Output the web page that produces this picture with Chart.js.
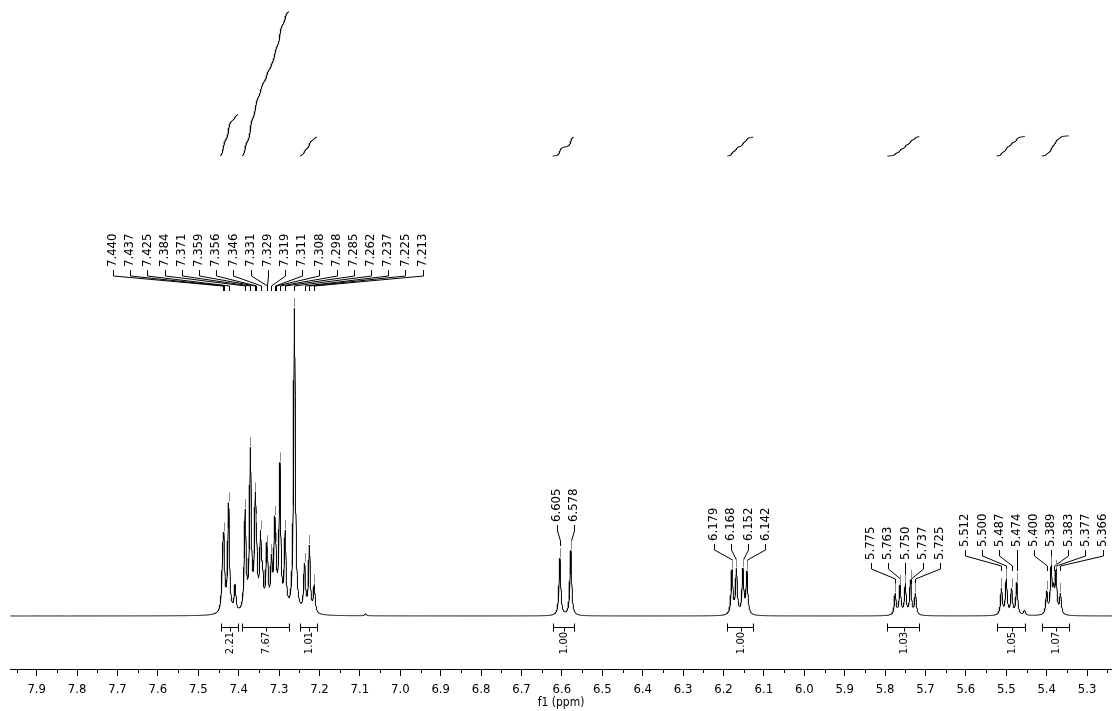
<!DOCTYPE html>
<html>
<head>
<meta charset="utf-8">
<script src="https://cdn.jsdelivr.net/npm/chart.js@4.4.0/dist/chart.umd.min.js"></script>
<style>
  body { margin: 0; background: #fff; }
  #wrap { width: 1112px; height: 711px; }
</style>
</head>
<body>
<div id="wrap"><canvas id="spectrum" width="1112" height="711"></canvas></div>
<script>
// axis ticks (ppm)
const ppmTicks = [7.9, 7.8, 7.7, 7.6, 7.5, 7.4, 7.3, 7.2, 7.1, 7.0, 6.9, 6.8, 6.7, 6.6,
  6.5, 6.4, 6.3, 6.2, 6.1, 6.0, 5.9, 5.8, 5.7, 5.6, 5.5, 5.4, 5.3];

// resonance lines: position (ppm) and height
const linePpm = [7.440, 7.437, 7.425, 7.409, 7.384, 7.371, 7.359, 7.356, 7.346, 7.341,
  7.331, 7.329, 7.319, 7.311, 7.308, 7.298, 7.285, 7.262, 7.237, 7.225, 7.213, 7.086,
  6.605, 6.578,
  6.179, 6.168, 6.152, 6.142,
  5.775, 5.763, 5.750, 5.737, 5.725,
  5.512, 5.500, 5.487, 5.474, 5.455,
  5.400, 5.389, 5.383, 5.377, 5.366];
const lineHeight = [34, 64, 108, 26, 98, 158, 94, 42, 68, 30,
  40, 33, 45, 75, 28, 143, 75, 305, 46, 66, 27, 2,
  57, 65,
  44, 44, 44, 42,
  21, 29, 29, 34, 21,
  26, 35, 25, 32, 5,
  22, 44, 20, 40, 20];
const lineHalfWidth = 0.0025;

// peak picking labels
const peakGroups = [
  [7.440, 7.437, 7.425, 7.384, 7.371, 7.359, 7.356, 7.346, 7.331, 7.329, 7.319,
    7.311, 7.308, 7.298, 7.285, 7.262, 7.237, 7.225, 7.213],
  [6.605, 6.578],
  [6.179, 6.168, 6.152, 6.142],
  [5.775, 5.763, 5.750, 5.737, 5.725],
  [5.512, 5.500, 5.487, 5.474],
  [5.400, 5.389, 5.383, 5.377, 5.366],
];

// integrals
const integralFrom = [7.445, 7.391, 7.248, 6.623, 6.191, 5.795, 5.524, 5.412];
const integralTo = [7.401, 7.276, 7.206, 6.570, 6.126, 5.715, 5.454, 5.345];
const integralValues = [2.21, 7.67, 1.01, 1.00, 1.00, 1.03, 1.05, 1.07];

const ppmMin = 5.2384, ppmMax = 7.9661;
const labelBase = [267, 522, 541, 560, 547, 547];
const labelGap = 17.2;
const labelFont = '13px "DejaVu Sans Condensed", "DejaVu Sans"';

Chart.defaults.font.family = '"DejaVu Sans Condensed", "DejaVu Sans"';
Chart.defaults.color = "#000";

function intensity(p) {
  let s = 0;
  const w2 = lineHalfWidth * lineHalfWidth;
  for (let i = 0; i < linePpm.length; i++) {
    const d = p - linePpm[i];
    s += lineHeight[i] * w2 / (d * d + w2);
  }
  return s;
}

const step = 0.0005;
const nSamples = Math.round((ppmMax - ppmMin) / step);
const spectrum = [];
for (let i = 0; i <= nSamples; i++) {
  const p = ppmMin + i * step;
  spectrum.push({ x: p, y: intensity(p) });
}

const integralSets = integralValues.map((val, r) => {
  const pts = spectrum
    .filter((s) => s.x <= integralFrom[r] && s.x >= integralTo[r])
    .sort((a, b) => b.x - a.x);
  let cum = 0;
  const out = pts.map((s) => {
    cum += s.y;
    return { x: s.x, y: cum };
  });
  out.forEach((o) => (o.y = (o.y / cum) * val));
  return {
    data: out.reverse(),
    yAxisID: "y2",
    borderColor: "#000",
    borderWidth: 1,
    pointRadius: 0,
    tension: 0,
  };
});

function layoutLabels(chart) {
  const xs = chart.scales.x;
  const place = (c) => {
    c.items.sort((a, b) => a.px - b.px);
    const mean = c.items.reduce((s, it) => s + it.px, 0) / c.items.length;
    c.left = mean - ((c.items.length - 1) * labelGap) / 2;
    c.right = c.left + (c.items.length - 1) * labelGap;
  };
  let clusters = peakGroups.map((g, gi) => ({
    items: g.map((p) => ({ ppm: p, group: gi, px: xs.getPixelForValue(p) })),
  }));
  clusters.forEach(place);
  clusters.sort((a, b) => a.left - b.left);
  let merged = true;
  while (merged) {
    merged = false;
    for (let i = 0; i < clusters.length - 1; i++) {
      if (clusters[i].right + labelGap > clusters[i + 1].left) {
        clusters[i].items = clusters[i].items.concat(clusters[i + 1].items);
        place(clusters[i]);
        clusters.splice(i + 1, 1);
        merged = true;
        break;
      }
    }
  }
  const items = [];
  clusters.forEach((c) => {
    const limit = chart.chartArea.right - 6;
    const shift = c.right > limit ? c.right - limit : 0;
    c.items.forEach((it, k) => {
      it.lx = c.left - shift + k * labelGap;
      items.push(it);
    });
  });
  return items;
}

const annotations = {
  id: "annotations",
  afterDatasetsDraw(chart) {
    const ctx = chart.ctx;
    const xs = chart.scales.x;
    const ys = chart.scales.y;
    const bottom = chart.chartArea.bottom;
    const h = (v) => Math.round(v) + 0.5;
    ctx.save();
    ctx.lineWidth = 1;
    ctx.strokeStyle = "#000";

    // minor ticks at the half steps
    ctx.beginPath();
    for (let i = 0; i <= ppmTicks.length; i++) {
      const v = i < ppmTicks.length ? ppmTicks[i] + 0.05 : ppmTicks[ppmTicks.length - 1] - 0.05;
      if (v > ppmMax || v < ppmMin) continue;
      const px = h(xs.getPixelForValue(v));
      ctx.moveTo(px, bottom);
      ctx.lineTo(px, bottom + 4);
    }
    ctx.stroke();

    // integration bars
    ctx.font = '10px "DejaVu Sans"';
    ctx.fillStyle = "#000";
    integralValues.forEach((val, r) => {
      const x1 = h(xs.getPixelForValue(integralFrom[r]));
      const x2 = h(xs.getPixelForValue(integralTo[r]));
      const xc = h((x1 + x2) / 2);
      const yb = 627.5;
      ctx.beginPath();
      ctx.moveTo(x1, yb); ctx.lineTo(x2, yb);
      ctx.moveTo(x1, yb - 4); ctx.lineTo(x1, yb + 4);
      ctx.moveTo(x2, yb - 4); ctx.lineTo(x2, yb + 4);
      ctx.moveTo(xc, yb); ctx.lineTo(xc, yb + 4);
      ctx.stroke();
      ctx.save();
      ctx.translate(xc, 643);
      ctx.rotate(-Math.PI / 2);
      ctx.textAlign = "center";
      ctx.textBaseline = "middle";
      ctx.fillText(val.toFixed(2), 0, 0);
      ctx.restore();
    });

    // peak labels
    ctx.font = labelFont;
    const items = layoutLabels(chart);
    items.forEach((it) => {
      const base = labelBase[it.group];
      const lx = h(it.lx);
      const px = h(it.px);
      ctx.save();
      ctx.translate(it.lx, base);
      ctx.rotate(-Math.PI / 2);
      ctx.textAlign = "left";
      ctx.textBaseline = "middle";
      ctx.fillText(it.ppm.toFixed(3), 0, 0);
      ctx.restore();

      ctx.strokeStyle = "#000";
      ctx.beginPath();
      ctx.moveTo(lx, base + 3);
      ctx.lineTo(lx, base + 9);
      ctx.lineTo(px, base + 19);
      ctx.lineTo(px, base + 24);
      ctx.stroke();

      const top = ys.getPixelForValue(intensity(it.ppm));
      ctx.strokeStyle = "#888";
      ctx.beginPath();
      ctx.moveTo(px, top - 10);
      ctx.lineTo(px, top - 1);
      ctx.stroke();
    });
    ctx.restore();
  },
};

new Chart(document.getElementById("spectrum"), {
  type: "line",
  data: {
    datasets: [
      {
        data: spectrum,
        yAxisID: "y",
        borderColor: "#000",
        borderWidth: 1,
        pointRadius: 0,
        tension: 0,
      },
      ...integralSets,
    ],
  },
  options: {
    responsive: false,
    animation: false,
    parsing: false,
    normalized: true,
    devicePixelRatio: 1,
    layout: { padding: { left: 10, right: 0, top: 0, bottom: 0 } },
    plugins: { legend: { display: false }, tooltip: { enabled: false } },
    events: [],
    scales: {
      x: {
        type: "linear",
        reverse: true,
        min: ppmMin,
        max: ppmMax,
        afterBuildTicks: (scale) => {
          scale.ticks = ppmTicks.map((v) => ({ value: v }));
        },
        afterFit: (scale) => {
          scale.height = 42;
        },
        ticks: {
          callback: (v) => v.toFixed(1),
          font: { size: 13 },
          color: "#000",
          padding: 6,
          maxRotation: 0,
          autoSkip: false,
        },
        grid: { drawOnChartArea: false, tickLength: 7, color: "#000", tickColor: "#000" },
        border: { color: "#000", width: 1 },
        title: {
          display: true,
          text: "f1 (ppm)",
          font: { size: 12 },
          color: "#000",
          padding: { top: 0, bottom: 1 },
        },
      },
      y: { display: false, min: -53, max: 616 },
      y2: { display: false, min: -27.287, max: 8.298 },
    },
  },
  plugins: [annotations],
});
</script>
</body>
</html>
